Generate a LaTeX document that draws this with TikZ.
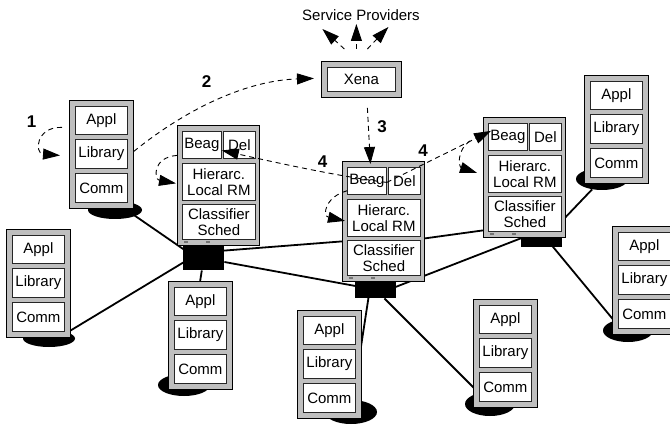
\documentclass[tikz,border=0pt]{standalone}
\usepackage{fontspec}
\setmainfont{Liberation Sans}
\usetikzlibrary{arrows.meta,calc,shapes.geometric}
\pgfdeclarelayer{bg}
\pgfsetlayers{bg,main}
\newcommand\cellfont{\fontsize{15}{15.5}\selectfont}
\newcommand\numfont{\bfseries\fontsize{17}{17}\selectfont}

\tikzset{
  frame/.style={draw=black, fill=black!25, line width=0.8pt, inner sep=0pt, anchor=north west},
  cell/.style={draw=black!85, fill=white, line width=0.8pt, inner sep=0pt,
    anchor=north west, align=center, font=\cellfont},
  disk/.style={ellipse, fill=black, inner sep=0pt},
  hub/.style={fill=black, inner sep=0pt, anchor=north west},
  net/.style={line width=1.8pt},
  flow/.style={line width=0.9pt, dash pattern=on 5pt off 4pt,
    -{Triangle[length=17pt,width=11pt]}},
  num/.style={font=\numfont, inner sep=0pt},
  tick/.style={draw=black!55, line width=1.2pt}
}

% workstation: Appl / Library / Comm stack
\newcommand\client[2]{%
  \node[frame, minimum width=64pt, minimum height=108pt] (#1) at (#2) {};
  \node[cell, minimum width=52pt, minimum height=28pt] (#1appl) at ($(#1.north west)+(6,6)$) {Appl};
  \node[cell, minimum width=52pt, minimum height=29pt] (#1lib) at ($(#1.north west)+(6,39)$) {Library};
  \node[cell, minimum width=52pt, minimum height=29pt] (#1comm) at ($(#1.north west)+(6,73)$) {Comm};
}

% resource-manager host
\newcommand\rmhost[2]{%
  \node[frame, minimum width=82pt, minimum height=120pt] (#1) at (#2) {};
  \node[cell, minimum width=39pt, minimum height=27pt] (#1beag) at ($(#1.north west)+(5,6)$) {Beag};
  \node[cell, minimum width=32pt, minimum height=27pt] (#1del) at ($(#1.north west)+(46,6)$) {Del};
  \node[cell, minimum width=73pt, minimum height=37pt] (#1rm) at ($(#1.north west)+(5,38)$) {Hierarc.\\Local RM};
  \node[cell, minimum width=73pt, minimum height=35pt] (#1cls) at ($(#1.north west)+(5,79)$) {Classifier\\Sched};
  \draw[tick] ($(#1.north west)+(7,117)$) -- +(4,0);
  \draw[tick] ($(#1.north west)+(29,117)$) -- +(4,0);
}

\begin{document}
\begin{tikzpicture}[x=1pt, y=-1pt]
\useasboundingbox (0,0) rectangle (670,425);
\begin{pgfonlayer}{bg}
  \fill[white] (0,0) rectangle (670,425);
\end{pgfonlayer}

% network taps under the workstations
\node[disk, minimum width=54pt, minimum height=18pt] (eA) at (115,210) {};
\node[disk, minimum width=52pt, minimum height=17pt] (eB) at (49,338.5) {};
\node[disk, minimum width=52pt, minimum height=22pt] (eC) at (184,385) {};
\node[disk, minimum width=52pt, minimum height=22pt] (eD) at (602,179) {};
\node[disk, minimum width=50pt, minimum height=23pt] (eE) at (628,330.5) {};
\node[disk, minimum width=50pt, minimum height=24pt] (eF) at (490,404) {};
\node[disk, minimum width=52pt, minimum height=24pt] (eG) at (351,412) {};

% workstations
\client{A}{69,100}
\client{B}{6,229}
\client{C}{168,281}
\client{D}{584,75}
\client{E}{612,226}
\client{F}{473,299}
\client{G}{297,310}

% resource-manager hosts
\rmhost{S1}{177,125}
\rmhost{S2}{342,161}
\rmhost{S3}{483,117}

% switches
\node[hub, minimum width=41pt, minimum height=24pt] (sw1) at (183,246) {};
\node[hub, minimum width=41pt, minimum height=17pt] (sw2) at (355,281) {};
\node[hub, minimum width=41pt, minimum height=10pt] (sw3) at (521,237) {};

% Xena
\node[frame, minimum width=80pt, minimum height=36pt] (X) at (321,61) {};
\node[cell, minimum width=68pt, minimum height=24pt] (Xin) at (327,67) {Xena};
\node[font=\cellfont, inner sep=0pt] (sp) at (361,15) {Service Providers};

% network cabling
\begin{pgfonlayer}{bg}
  \draw[net] ($(eA)+(0,-8)$) -- ($(sw1)+(0,5)$);
  \draw[net] ($(eB)+(0,5)$) -- ($(sw1)+(0,-8)$);
  \draw[net] (sw1) -- (eC);
  \draw[net] ($(sw1)+(0,-6)$) -- ($(S2.west)+(0,20)$);
  \draw[net] (sw1) -- (sw2);
  \draw[net] ($(S2.east)+(0,17)$) -- ($(S3.west)+(0,53)$);
  \draw[net] ($(sw2)+(0,5)$) -- ($(sw3)+(0,-12)$);
  \draw[net] ($(sw2)+(-6,0)$) -- (eG);
  \draw[net] (sw2) -- (eF);
  \draw[net] ($(sw3)+(0,-9)$) -- ($(eE)+(0,7)$);
  \draw[net] (sw3) -- (eD);
\end{pgfonlayer}

% Xena to service providers
\draw[flow] ($(X.north)+(-17,-12)$) -- ($(X.north)+(-39,-32)$);
\draw[flow] ($(X.north)+(-5,-12)$) -- ($(X.north)+(-5,-37)$);
\draw[flow] ($(X.north)+(6,-12)$) -- ($(X.north)+(27,-34)$);

% step 1: application calls library
\draw[flow] ($(Aappl.west)+(-13,7)$) .. controls +(-26,-1) and +(-26,-2) .. ($(Alib.west)+(-15,1.5)$);
\node[num] (n1) at (31.5,121.5) {1};

% step 2: library contacts Xena
\draw[flow] ($(A.east)+(0,-3)$) .. controls +(57,-46) and +(-64,2) .. ($(X.west)+(-7,-1)$);
\node[num] (n2) at (206.5,81.5) {2};

% step 3: Xena to a local resource manager
\draw[flow] ($(X.south)+(6,10)$) -- ($(S2beag.north)+(3.5,-3)$);
\node[num] (n3) at (382,127) {3};

% step 4: Beagle negotiation with peers
\draw[flow] ($(S2beag.east)+(0,1.5)$) .. controls +(-50,-6) and +(40,9) .. ($(S1beag.east)+(0,5.5)$);
\draw[flow] ($(S2beag.east)+(0,1.5)$) -- ($(S3beag.west)+(3,-6)$);
\node[num] (n4a) at (322.5,162) {4};
\node[num] (n4b) at (423,151) {4};

% hand-off from Beagle to the local resource manager
\draw[flow] ($(S1.west)+(0,-30)$) .. controls +(-25,2) and +(-22,-4) .. ($(S1rm.west)+(-6,1.5)$);
\draw[flow] ($(S2beag.south west)+(0,-4)$) .. controls +(-22,6) and +(-23,-5) .. ($(S2rm.west)+(-2,3)$);
\draw[flow] ($(S3beag.west)+(-18,4)$) .. controls +(-14,10) and +(-18,-6) .. ($(S3rm.west)+(-11,-1)$);
\end{tikzpicture}
\end{document}
